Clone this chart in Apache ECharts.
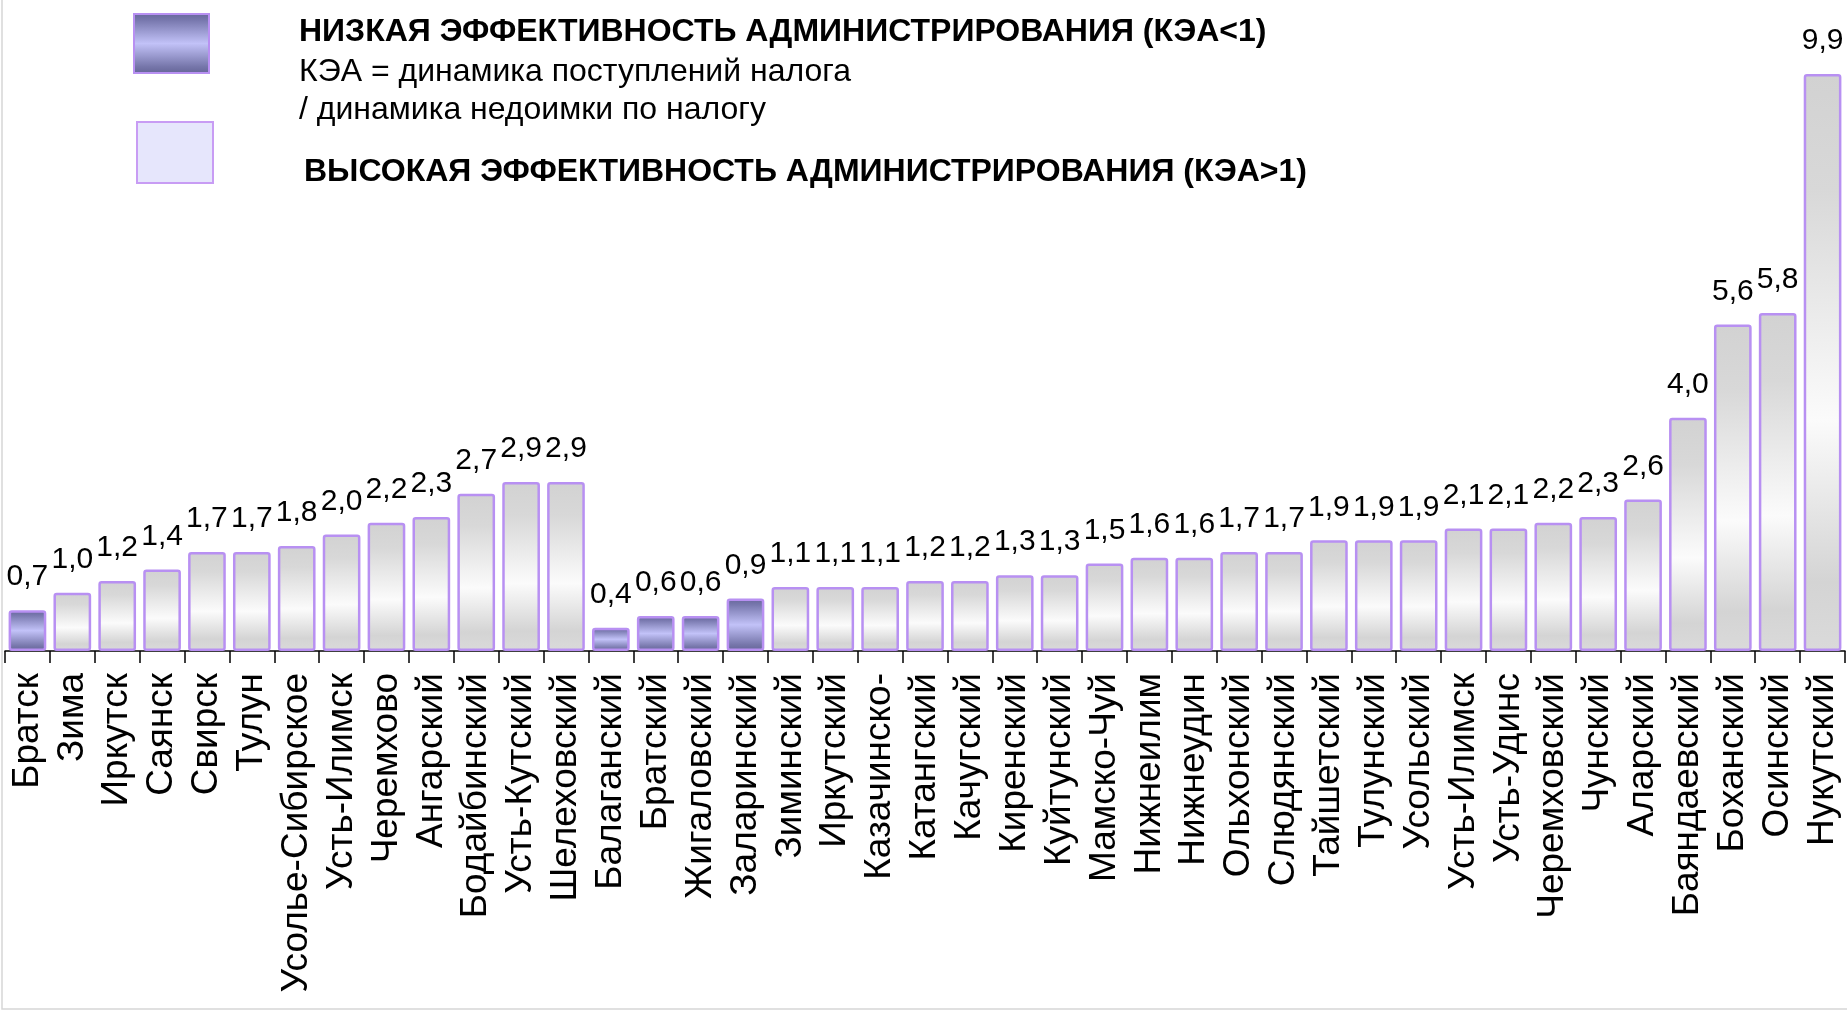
<!DOCTYPE html>
<html>
<head>
<meta charset="utf-8">
<script src="https://cdn.jsdelivr.net/npm/echarts@6/dist/echarts.min.js"></script>
<style>
html,body{margin:0;padding:0;background:#fff;}
#chart{width:1847px;height:1014px;}
</style>
</head>
<body>
<div id="chart"></div>
<script>
const categories = ['Братск','Зима','Иркутск','Саянск','Свирск','Тулун','Усолье-Сибирское','Усть-Илимск','Черемхово','Ангарский','Бодайбинский','Усть-Кутский','Шелеховский','Балаганский','Братский','Жигаловский','Заларинский','Зиминский','Иркутский','Казачинско-','Катангский','Качугский','Киренский','Куйтунский','Мамско-Чуй','Нижнеилим','Нижнеудин','Ольхонский','Слюдянский','Тайшетский','Тулунский','Усольский','Усть-Илимск','Усть-Удинс','Черемховский','Чунский','Аларский','Баяндаевский','Боханский','Осинский','Нукутский'];
const values = [0.7,1.0,1.2,1.4,1.7,1.7,1.8,2.0,2.2,2.3,2.7,2.9,2.9,0.4,0.6,0.6,0.9,1.1,1.1,1.1,1.2,1.2,1.3,1.3,1.5,1.6,1.6,1.7,1.7,1.9,1.9,1.9,2.1,2.1,2.2,2.3,2.6,4.0,5.6,5.8,9.9];
const legendLow = 'НИЗКАЯ ЭФФЕКТИВНОСТЬ АДМИНИСТРИРОВАНИЯ (КЭА<1)';
const legendNote1 = 'КЭА = динамика поступлений налога';
const legendNote2 = '/ динамика недоимки по налогу';
const legendHigh = 'ВЫСОКАЯ ЭФФЕКТИВНОСТЬ АДМИНИСТРИРОВАНИЯ (КЭА>1)';

const G = echarts.graphic;
const lowFill = new G.LinearGradient(0,0,0,1,[
  {offset:0,color:'#66669a'},{offset:0.12,color:'#7878ae'},
  {offset:0.5,color:'#c2c2f8'},{offset:0.88,color:'#7676aa'},{offset:1,color:'#646496'}]);
const highFill = new G.LinearGradient(0,0,0,1,[
  {offset:0,color:'#d2d2d2'},{offset:0.2,color:'#d8d8d8'},
  {offset:0.6,color:'#fbfbfb'},{offset:0.88,color:'#d4d4d4'},{offset:1,color:'#dadada'}]);
const border = '#b890f2';

const data = values.map(v => ({
  value: v,
  itemStyle: {color: v < 1 ? lowFill : highFill, borderColor: border, borderWidth: 2.5, borderRadius: 2}
}));

const chart = echarts.init(document.getElementById('chart'));
chart.setOption({
  animation: false,
  backgroundColor: '#fff',
  grid: {left: 5, right: 2, top: 74, bottom: 363, containLabel: false},
  xAxis: {
    type: 'category', data: categories,
    axisLine: {lineStyle: {color: '#000', width: 1.5}},
    axisTick: {show: true, length: 12, lineStyle: {color: '#000', width: 1.5}},
    axisLabel: {rotate: 90, interval: 0, margin: 22, fontSize: 37, color: '#000', fontFamily: 'Liberation Sans'}
  },
  yAxis: {type: 'value', min: 0, max: 9.9, show: false, splitLine: {show: false}},
  series: [{
    type: 'bar', data: data, barCategoryGap: '16%',
    label: {show: true, position: 'top', distance: 18, fontSize: 30, color: '#000',
      fontFamily: '"Liberation Sans Narrow", "Liberation Sans", sans-serif',
      formatter: p => p.value.toFixed(1).replace('.', ',')}
  }],
  graphic: [
    {type:'rect', shape:{x:2, y:-5, width:1860, height:1014}, style:{fill:'none', stroke:'#d6d6d6', lineWidth:1.5}, silent:true},
    {type:'rect', shape:{x:134, y:14, width:75, height:59}, style:{fill:lowFill, stroke:border, lineWidth:2}},
    {type:'rect', shape:{x:137, y:122, width:76, height:61}, style:{fill:'#e6e6fc', stroke:'#c89cf4', lineWidth:2}},
    {type:'text', left:299, top:16, style:{text:legendLow, font:'bold 32px "Liberation Sans"', fill:'#000'}},
    {type:'text', left:299, top:56, style:{text:legendNote1, font:'32px "Liberation Sans"', fill:'#000'}},
    {type:'text', left:299, top:94, style:{text:legendNote2, font:'32px "Liberation Sans"', fill:'#000'}},
    {type:'text', left:304, top:156, style:{text:legendHigh, font:'bold 32px "Liberation Sans"', fill:'#000'}}
  ]
});
</script>
</body>
</html>
